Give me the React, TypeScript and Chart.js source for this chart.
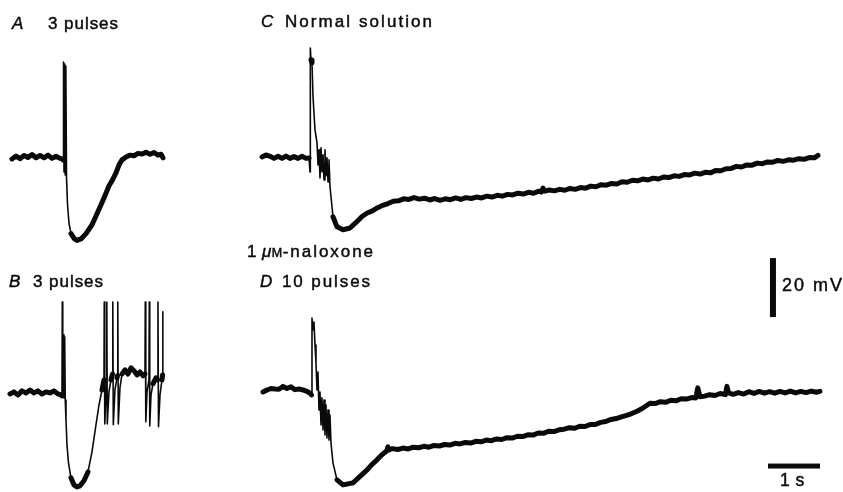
import React, { useEffect, useRef } from "react";
import { Chart, registerables } from "chart.js";

Chart.register(...registerables);

// ---------- DATA (time in s from stimulus, membrane potential in mV from rest) ----------
const A_TIME = [-0.981, -0.904, -0.827, -0.75, -0.673, -0.596, -0.519, -0.442, -0.365, -0.288, -0.212, -0.135, -0.058, -0.019,
  0, 0.01, 0.019, 0.033, 0.042, 0.054, 0.067, 0.087, 0.115, 0.154, 0.212, 0.269, 0.346, 0.442, 0.558, 0.673, 0.788, 0.885,
  0.942, 1.019, 1.077, 1.135, 1.212, 1.288, 1.365, 1.442, 1.519, 1.596, 1.673, 1.75, 1.827, 1.885, 1.923];
const A_MV = [-0.68, 0.3, -0.6, 0.5, -0.2, 0.8, -0.3, 0.5, -0.3, 0.6, -0.5, 0.2, -0.5, -0.68,
  -1.0, 32.2, -5.1, 31.5, -6.1, 30.8, -7.1, -16.3, -22.5, -26.0, -27.6, -28.3, -27.8, -26.0, -23.0, -18.5, -13.9, -9.8,
  -8.1, -5.4, -2.7, -1.0, 0, 0.6, 0.4, 1.2, 1.0, 1.6, 0.9, 1.5, 0.6, 0.9, -0.34];

const B_TIME = [-1.0, -0.923, -0.846, -0.769, -0.692, -0.615, -0.538, -0.462, -0.385, -0.308, -0.231, -0.154, -0.077, -0.019,
  0, 0.006, 0.015, 0.029, 0.038, 0.052, 0.063, 0.077, 0.096, 0.125, 0.173, 0.231, 0.288, 0.346, 0.423, 0.5, 0.577, 0.654,
  0.712, 0.769, 0.808, 0.813, 0.823, 0.846, 0.856, 0.862, 0.871, 0.904, 0.942, 0.971, 0.977, 0.987, 1.019, 1.058, 1.067,
  1.073, 1.083, 1.115, 1.154, 1.212, 1.269, 1.327, 1.385, 1.442, 1.5, 1.558, 1.596, 1.602, 1.612, 1.635, 1.673, 1.679,
  1.688, 1.712, 1.75, 1.808, 1.84, 1.846, 1.856, 1.885, 1.923, 1.935, 1.937, 1.942];
const B_MV = [-0.34, 0.34, -0.68, 0.68, 0, 1.0, 0, 0.68, -0.34, 0.34, 0, 0.68, -0.34, -0.68,
  -1.0, 30.8, -1.4, 19.7, -1.7, 19.0, -2.4, -9.2, -17.6, -23.7, -28.8, -31.2, -31.9, -31.5, -29.8, -26.8, -20.0, -10.8,
  -4.1, 1.0, 4.4, 30.8, -10.5, -0.68, 2.7, 30.8, -10.5, 0.34, 4.4, 6.4, 30.8, -10.8, 1.0, 5.1, 5.8,
  30.8, -10.5, 1.7, 6.4, 7.8, 6.4, 8.5, 7.5, 6.1, 7.1, 5.8, 6.4, 30.8, -9.8, 0.34, 4.4, 30.8,
  -11.2, -0.68, 3.1, 5.1, 4.4, 30.8, -11.5, -0.68, 4.4, 6.1, 27.5, 8.8];

const C_TIME = [-0.923, -0.846, -0.769, -0.692, -0.615, -0.538, -0.462, -0.385, -0.308, -0.231, -0.154, -0.077, -0.019,
  0, 0.006, 0.019, 0.038, 0.058, 0.096, 0.135, 0.154, 0.173, 0.192, 0.212, 0.231, 0.25, 0.269, 0.288, 0.308, 0.327, 0.346,
  0.365, 0.385, 0.442, 0.519, 0.635, 0.769, 0.88,
  1.0, 1.1, 1.2, 1.3, 1.4, 1.5, 1.6, 1.7, 1.8, 1.9, 2.0, 2.1, 2.2, 2.3, 2.4, 2.5, 2.6, 2.7, 2.8, 2.9, 3.0, 3.1, 3.2, 3.3,
  3.4, 3.5, 3.6, 3.7, 3.8, 3.9, 4.0, 4.1, 4.2, 4.3, 4.4, 4.45, 4.48, 4.52, 4.6, 4.7, 4.8, 4.9, 5.0, 5.1, 5.2, 5.3, 5.4,
  5.5, 5.6, 5.7, 5.8, 5.9, 6.0, 6.1, 6.2, 6.3, 6.4, 6.5, 6.6, 6.7, 6.8, 6.9, 7.0, 7.1, 7.2, 7.3, 7.4, 7.5, 7.6, 7.7, 7.8,
  7.9, 8.0, 8.1, 8.2, 8.3, 8.4, 8.5, 8.6, 8.7, 8.8, 8.9, 9.0, 9.1, 9.2, 9.3, 9.4, 9.5, 9.6, 9.7, 9.769];
const C_MV = [0, 0.68, 0.2, -0.5, 0.2, -0.5, 0.3, -0.5, 0.1, -0.5, 0.2, -0.5, -0.34,
  -5.1, 36.9, 32.9, 31.9, 20.3, 9.2, 4.7, -2.7, 2.4, -7.1, 3.1, -5.1, 0.68, -7.8, 2.4, -6.4, -0.34, -8.5,
  -1.0, -10.2, -20.3, -23.7, -24.7, -24.1, -22.3,
  -20.2, -19.0, -18.3, -17.2, -16.4, -15.8, -15.0, -14.9, -14.2, -14.4, -13.8, -14.3, -14.0, -14.6, -14.1, -14.7, -14.2,
  -14.5, -13.9, -14.4, -13.8, -14.1, -13.6, -13.9, -13.3, -13.6, -13.0, -13.3, -12.7, -12.9, -12.3, -12.6, -12.0, -12.3,
  -11.6, -11.9, -10.6, -11.6, -11.2, -11.5, -11.0, -11.3, -10.7, -11.0, -10.4, -10.6, -9.9, -10.1, -9.4, -9.6, -9.0,
  -9.2, -8.4, -8.6, -7.9, -8.1, -7.5, -7.8, -7.2, -7.5, -6.8, -7.0, -6.4, -6.6, -6.0, -6.1, -5.5, -5.8, -5.2, -5.4, -4.6,
  -4.7, -4.0, -3.9, -3.2, -3.4, -2.7, -2.8, -2.1, -2.3, -1.7, -1.8, -1.2, -1.5, -1.0, -1.1, -0.6, -0.8, -0.2, -0.3, 0.5];

const D_TIME = [-0.942, -0.865, -0.788, -0.712, -0.635, -0.558, -0.481, -0.404, -0.327, -0.25, -0.173, -0.096, -0.038, -0.01,
  0, 0.019, 0.038, 0.058, 0.077, 0.096, 0.115, 0.135, 0.154, 0.173, 0.192, 0.212, 0.231, 0.25, 0.269, 0.288, 0.308, 0.327,
  0.346, 0.365, 0.404, 0.481, 0.596, 0.788,
  1.06, 1.15, 1.25, 1.35, 1.44, 1.46, 1.48, 1.55, 1.65, 1.75, 1.85, 1.95, 2.05, 2.15, 2.25, 2.35, 2.45, 2.55, 2.65, 2.75,
  2.85, 2.95, 3.05, 3.15, 3.25, 3.35, 3.45, 3.55, 3.65, 3.75, 3.85, 3.95, 4.05, 4.15, 4.25, 4.35, 4.45, 4.55, 4.65, 4.75,
  4.85, 4.95, 5.05, 5.15, 5.25, 5.35, 5.45, 5.55, 5.65, 5.75, 5.85, 5.95, 6.05, 6.15, 6.25, 6.35, 6.45, 6.5, 6.6, 6.7,
  6.8, 6.9, 7.0, 7.1, 7.2, 7.3, 7.38, 7.42, 7.46, 7.55, 7.65, 7.75, 7.85, 7.95, 7.98, 8.01, 8.1, 8.2, 8.3, 8.4, 8.5, 8.6,
  8.7, 8.8, 8.9, 9.0, 9.1, 9.2, 9.3, 9.4, 9.5, 9.6, 9.7, 9.769];
const D_MV = [0, 0.68, 1.2, 1.0, 0.9, 1.9, 1.2, 1.8, 0.8, 1.0, 0.7, 0.2, -0.34, -1.0,
  25.1, 21.0, 23.7, 15.9, 9.8, 0.68, 6.8, -6.1, 0, -11.2, -2.0, -12.9, -2.7, -14.6, -4.4, -15.6, -6.1, -16.3,
  -7.8, -17.3, -24.1, -29.8, -31.5, -30.8,
  -26.4, -24.6, -23.0, -21.2, -19.9, -18.6, -19.6, -19.2, -19.5, -19.0, -19.3, -18.7, -18.9, -18.4, -18.7, -18.1, -18.3,
  -17.8, -18.0, -17.4, -17.6, -17.1, -17.3, -16.7, -16.9, -16.3, -16.5, -15.9, -16.1, -15.5, -15.6, -15.0, -15.1, -14.5,
  -14.6, -13.9, -14.0, -13.3, -13.4, -12.8, -12.6, -12.1, -12.3, -11.6, -11.7, -11.0, -11.0, -10.3, -10.0, -9.3, -9.0,
  -8.4, -7.9, -7.3, -6.5, -5.6, -4.4, -3.8, -3.9, -3.3, -3.5, -2.8, -3.0, -2.3, -2.4, -1.9, -2.0, 1.4, -1.6, -1.4, -0.9,
  -1.2, -0.5, -0.9, 1.9, -0.3, -0.8, -0.2, -0.7, 0.1, -0.5, 0.2, -0.4, 0.1, -0.4, 0.2, -0.3, 0.3, -0.3, 0.2, -0.2, 0.3,
  -0.1, 0.2];

const SCALE_BAR_MV = 20;
const SCALE_BAR_S = 1;

// ---------- LAYOUT (where each trace sits on the page, in axis units) ----------
const X_MAX = 16.212; // s across the canvas
const Y_MIN = -166.8; // mV down the canvas
const OFFSETS = {
  A: { t0: 1.212, v0: -53.2 },
  B: { t0: 1.192, v0: -133.2 },
  C: { t0: 5.962, v0: -53.2 },
  D: { t0: 6.0, v0: -132.9 },
};
const VBAR = { t: 14.865, v: -87.5 };
const HBAR = { t: 14.77, v: -158.0 };

function build(ts: number[], vs: number[], off: { t0: number; v0: number }) {
  return ts.map((t, i) => ({ x: t + off.t0, y: vs[i] + off.v0 }));
}

const FONT = '"Liberation Sans", Arial, Helvetica, sans-serif';

function setFont(ctx: CanvasRenderingContext2D, size: number, italic: boolean, ls: number) {
  ctx.font = `${italic ? "italic " : ""}${size}px ${FONT}`;
  (ctx as any).letterSpacing = `${ls}px`;
}

function draw(ctx: CanvasRenderingContext2D, s: string, x: number, y: number) {
  ctx.fillText(s, x, y);
  ctx.strokeText(s, x, y);
}

function txt(ctx: CanvasRenderingContext2D, s: string, x: number, y: number, size: number, italic = false, ls = 0) {
  setFont(ctx, size, italic, ls);
  draw(ctx, s, x, y);
  return ctx.measureText(s).width;
}

// text stretched by letter spacing to span x0..x1
function fit(ctx: CanvasRenderingContext2D, s: string, x0: number, x1: number, y: number, size: number, italic = false) {
  setFont(ctx, size, italic, 0);
  const w = ctx.measureText(s).width;
  const ls = s.length > 1 ? Math.max(0, (x1 - x0 - w) / (s.length - 1)) : 0;
  setFont(ctx, size, italic, ls);
  draw(ctx, s, x0, y);
}

const figurePlugin = {
  id: "figureAnnotations",
  afterDatasetsDraw(chart: any) {
    const ctx: CanvasRenderingContext2D = chart.ctx;
    const xs = chart.scales.x;
    const ys = chart.scales.y;
    ctx.save();
    ctx.fillStyle = "#0a0a0a";
    ctx.strokeStyle = "#0a0a0a";
    ctx.lineWidth = 0.45;
    ctx.textBaseline = "alphabetic";
    // 20 mV bar
    const bx = xs.getPixelForValue(VBAR.t);
    const by0 = ys.getPixelForValue(VBAR.v);
    const by1 = ys.getPixelForValue(VBAR.v - SCALE_BAR_MV);
    ctx.fillRect(bx - 3, by0, 6, by1 - by0);
    // 1 s bar
    const hx0 = xs.getPixelForValue(HBAR.t);
    const hx1 = xs.getPixelForValue(HBAR.t + SCALE_BAR_S);
    const hy = ys.getPixelForValue(HBAR.v);
    ctx.fillRect(hx0, hy - 2.5, hx1 - hx0, 5);

    // labels
    txt(ctx, "A", 12, 29, 17, true);
    fit(ctx, "3 pulses", 48, 118, 29, 17);
    txt(ctx, "B", 9, 287, 17, true);
    fit(ctx, "3 pulses", 33, 103, 287, 17);
    txt(ctx, "C", 261, 27, 17, true);
    fit(ctx, "Normal solution", 285, 432, 27, 17);
    txt(ctx, "1", 247, 257, 17, false);
    let x = 262;
    x += txt(ctx, "μ", x, 257, 17, true) + 0.5;
    x += txt(ctx, "M", x, 257, 12.5, false) + 0.5;
    fit(ctx, "-naloxone", x, 373, 257, 17);
    txt(ctx, "D", 260, 287, 17, true);
    fit(ctx, "10 pulses", 282, 370, 287, 17);
    fit(ctx, "20 mV", 782, 842, 291, 18);
    txt(ctx, "1 s", 780, 486, 17.5, false, 0.5);
    ctx.restore();
  },
};

export default function App() {
  const ref = useRef<HTMLCanvasElement | null>(null);
  useEffect(() => {
    document.body.style.margin = "0";
    const canvas = ref.current!;
    const steep = (c: any) => {
      const dx = Math.abs(c.p1.x - c.p0.x);
      const dy = Math.abs(c.p1.y - c.p0.y);
      return dy > 2.5 * dx + 5 ? 1.6 : 5;
    };
    const mk = (label: string, data: { x: number; y: number }[]) => ({
      label,
      data,
      borderColor: "#0a0a0a",
      borderWidth: 5,
      pointRadius: 0,
      tension: 0,
      borderCapStyle: "round" as const,
      borderJoinStyle: "round" as const,
      segment: { borderWidth: steep },
    });
    const chart = new Chart(canvas, {
      type: "line",
      data: {
        datasets: [
          mk("A", build(A_TIME, A_MV, OFFSETS.A)),
          mk("B", build(B_TIME, B_MV, OFFSETS.B)),
          mk("C", build(C_TIME, C_MV, OFFSETS.C)),
          mk("D", build(D_TIME, D_MV, OFFSETS.D)),
        ],
      },
      options: {
        animation: false,
        responsive: false,
        maintainAspectRatio: false,
        layout: { padding: 0 },
        events: [],
        plugins: { legend: { display: false }, tooltip: { enabled: false }, title: { display: false } },
        scales: {
          x: { type: "linear", min: 0, max: X_MAX, display: false },
          y: { type: "linear", min: Y_MIN, max: 0, display: false },
        },
      },
      plugins: [figurePlugin],
    });
    return () => chart.destroy();
  }, []);
  return (
    <div style={{ position: "absolute", left: 0, top: 0, width: 843, height: 492, background: "#fff" }}>
      <canvas ref={ref} width={843} height={492} style={{ display: "block" }} />
    </div>
  );
}
